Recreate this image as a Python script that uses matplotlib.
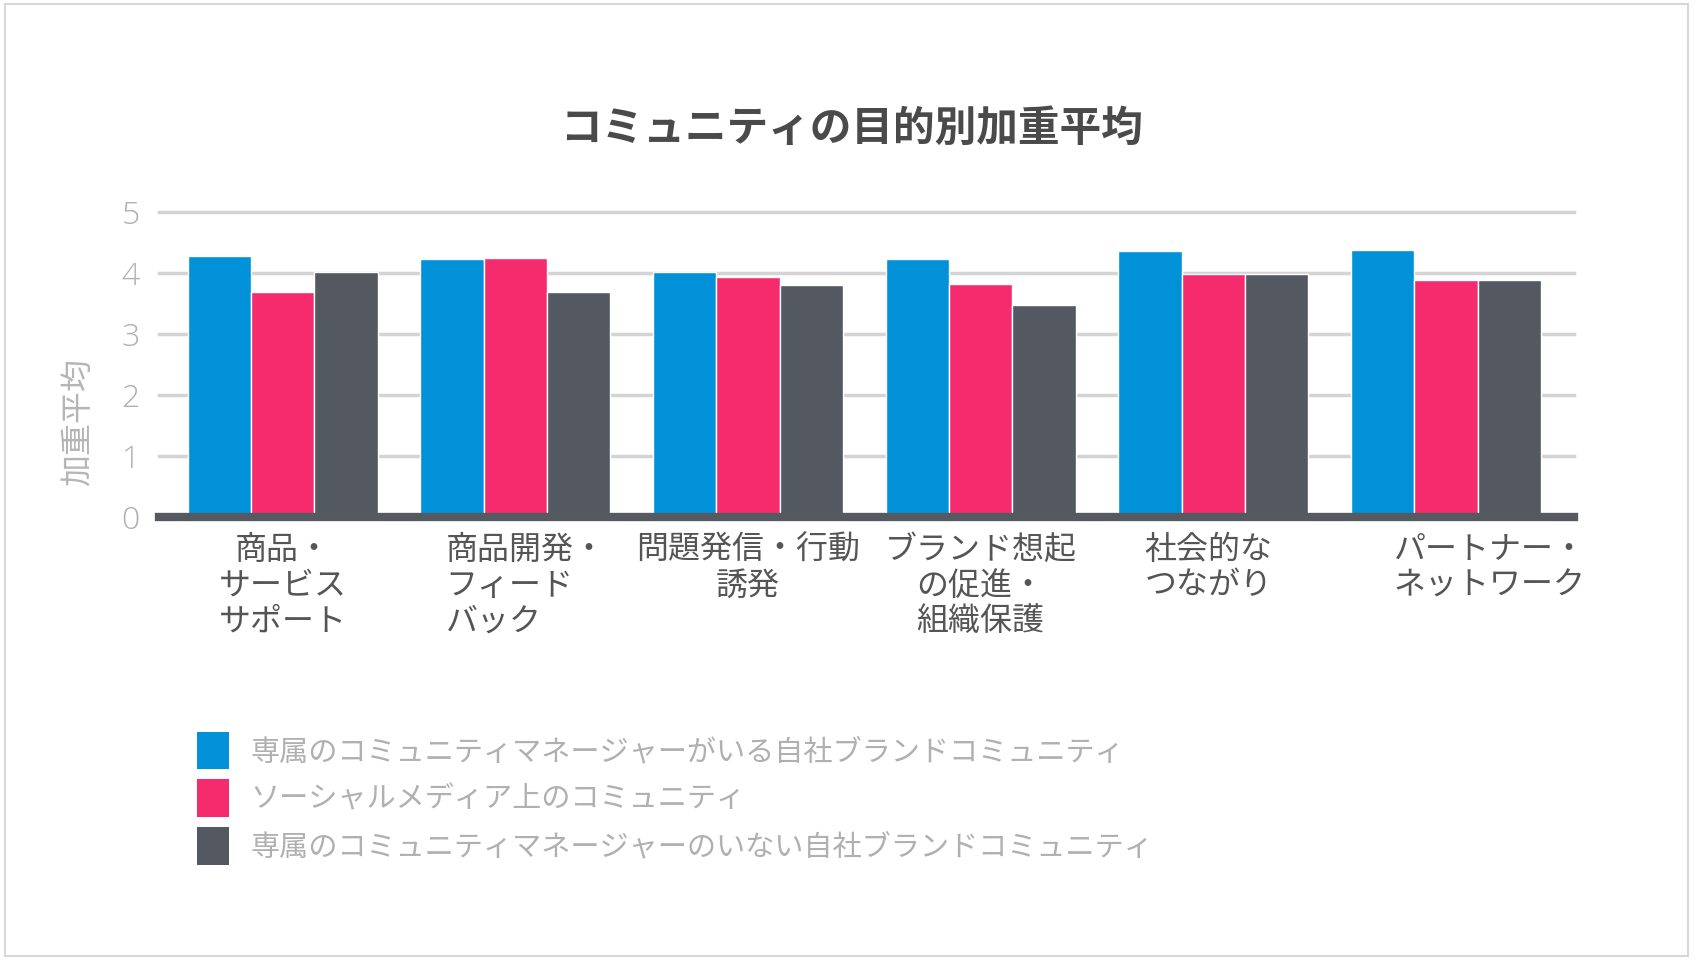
import numpy as np
import matplotlib
matplotlib.use("Agg")
import matplotlib.pyplot as plt
from matplotlib.patches import Patch, FancyBboxPatch
import matplotlib.transforms as mtransforms

plt.rcParams['font.family'] = ['Noto Sans CJK JP', 'DejaVu Sans']

# データ
categories = ["商品・\nサービス\nサポート", "商品開発・\nフィード\nバック", "問題発信・行動\n誘発",
              "ブランド想起\nの促進・\n組織保護", "社会的な\nつながり", "パートナー・\nネットワーク"]
series_names = ["専属のコミュニティマネージャーがいる自社ブランドコミュニティ",
                "ソーシャルメディア上のコミュニティ",
                "専属のコミュニティマネージャーのいない自社ブランドコミュニティ"]
with_manager = [4.28, 4.22, 4.02, 4.22, 4.36, 4.38]
social_media = [3.68, 4.24, 3.94, 3.82, 3.98, 3.88]
without_manager = [4.02, 3.68, 3.80, 3.48, 3.98, 3.88]
yticks = [0, 1, 2, 3, 4, 5]

colors = ["#0091d9", "#f52b6e", "#545860"]

fig = plt.figure(figsize=(16.96, 9.68), dpi=100)
fig.patch.set_facecolor("white")

# カードの枠
card = FancyBboxPatch((0.003, 0.012), 0.992, 0.984, boxstyle="square,pad=0",
                      transform=fig.transFigure, facecolor="white",
                      edgecolor="#d8d8d8", linewidth=1.5, zorder=-10)
fig.patches.append(card)

ax = fig.add_axes([0.094, 0.466, 0.834, 0.3164])
ax.set_facecolor("none")

x = np.arange(len(categories))
w = 0.272
for k, vals in enumerate([with_manager, social_media, without_manager]):
    ax.bar(x + (k - 1) * w, vals, width=w, color=colors[k], edgecolor="white",
           linewidth=1.0, zorder=3, label=series_names[k])

ax.set_xlim(-0.53, len(categories) - 1 + 0.55)
ax.set_ylim(0, 5.02)
ax.set_yticks(yticks)
ax.set_yticklabels([str(t) for t in yticks], fontsize=23, color="#b0b0b0",
                   family=["Open Sans", "DejaVu Sans"], fontweight="light")
ax.tick_params(axis="y", length=0, pad=14)
ax.set_xticks([])
for t in yticks[1:]:
    ax.axhline(t, color="#d4d4d6", linewidth=2.5, zorder=1, clip_on=False)
ax.axhline(0, color="#555a61", linewidth=6, zorder=4, clip_on=False)
for s in ax.spines.values():
    s.set_visible(False)

ax.set_ylabel("加重平均", fontsize=23, color="#b5b5b5")
ax.yaxis.set_label_coords(-0.046, 0.31)

# x ラベル（位置調整）
label_dx = [0.0, -0.30, 0.0, 0.0, -0.295, -0.225]
label_ha = ["center", "left", "center", "center", "left", "left"]
trans = mtransforms.blended_transform_factory(ax.transData, ax.transAxes)
for i, lab in enumerate(categories):
    ax.text(i + label_dx[i], -0.055, lab, transform=trans, ha=label_ha[i], va="top",
            multialignment="center" if label_ha[i] == "center" else "left",
            fontsize=23, color="#555555", linespacing=1.15)

fig.text(0.502, 0.867, "コミュニティの目的別加重平均", ha="center", va="center",
         fontsize=30, fontweight="bold", color="#4a4a4a")

handles = [Patch(facecolor=c, edgecolor="none") for c in colors]
leg = fig.legend(handles, series_names, loc="upper left", bbox_to_anchor=(0.116, 0.244),
                 frameon=False, fontsize=21, handlelength=1.1, handleheight=1.6,
                 labelspacing=0.35, handletextpad=0.75, borderaxespad=0, borderpad=0)
for t in leg.get_texts():
    t.set_color("#b0b0b0")

fig.savefig("out.png", dpi=100, facecolor="white")
